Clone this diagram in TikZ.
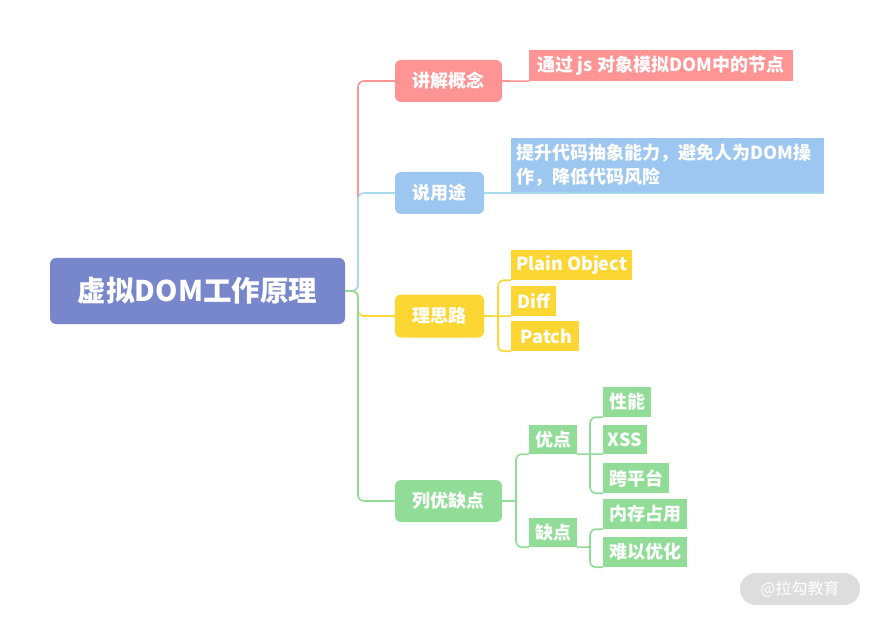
\documentclass[tikz,border=0pt]{standalone}
\usepackage{fontspec}
\setmainfont{Noto Sans CJK SC}
\definecolor{croot}{HTML}{7886CB}
\definecolor{cred}{HTML}{FF9494}
\definecolor{cblue}{HTML}{9DC6F0}
\definecolor{cblueL}{HTML}{A6DAEC}
\definecolor{cyel}{HTML}{FCD632}
\definecolor{cgreen}{HTML}{91DD98}
\definecolor{cwm}{HTML}{DDDDDD}
\begin{document}
\begin{tikzpicture}[x=1pt,y=-1pt,
  font=\bfseries\fontsize{18}{24}\selectfont,
  main/.style={rounded corners=6pt, fill=#1, text=white, minimum height=42pt, inner sep=0pt},
  leaf/.style={fill=#1, text=white, inner sep=0pt, minimum height=30pt},
  ln/.style={draw=#1, line width=1.6pt, rounded corners=6pt}]
\useasboundingbox (0,0) rectangle (874,617);
\fill[white] (0,0) rectangle (874,617);

\node[main=croot, minimum width=295pt, minimum height=66pt,
      font=\bfseries\fontsize{28.5}{30}\selectfont] (root) at (197.5,291) {虚拟DOM工作原理};

\node[main=cred, minimum width=107pt] (k1) at (448.5,81) {讲解概念};
\node[leaf=cred, minimum width=264pt, minimum height=31pt] (c1) at (661,65.5) {通过 js 对象模拟DOM中的节点};

\node[main=cblue, minimum width=89pt] (k2) at (439.5,193) {说用途};
\node[leaf=cblue, text width=303pt, inner xsep=5pt, minimum height=55pt, align=left] (c2) at (667.5,165.5)
  {提升代码抽象能力，避免人为DOM操\\作，降低代码风险};

\node[main=cyel, minimum width=89pt, minimum height=43pt] (k3) at (439.5,316) {理思路};
\node[leaf=cyel, minimum width=121pt] (c3a) at (571.5,265) {Plain Object};
\node[leaf=cyel, minimum width=45pt] (c3b) at (533.5,301) {Diff};
\node[leaf=cyel, minimum width=68pt] (c3c) at (545,336) {\,Patch};

\node[main=cgreen, minimum width=107pt] (k4) at (448.5,501) {列优缺点};
\node[leaf=cgreen, minimum width=48pt, minimum height=29pt] (g1) at (553,439.5) {优点};
\node[leaf=cgreen, minimum width=48pt, minimum height=29pt] (g2) at (553,532.5) {缺点};
\node[leaf=cgreen, minimum width=48pt] (p1) at (627,402) {性能};
\node[leaf=cgreen, minimum width=44pt, minimum height=29pt] (p2) at (625,439.5) {XSS};
\node[leaf=cgreen, minimum width=66pt] (p3) at (636,478) {跨平台};
\node[leaf=cgreen, minimum width=84pt] (m1) at (645,514) {内存占用};
\node[leaf=cgreen, minimum width=84pt] (m2) at (645,552) {难以优化};

\node[fill=cwm, text=white, rounded corners=16pt, minimum width=120pt, minimum height=32pt, inner sep=0pt,
      font=\fontsize{16}{18}\selectfont] (wm) at (800,589) {@拉勾教育};

\coordinate (trunk) at (358,291);
\coordinate (b3) at (498,316);
\coordinate (b4) at (516,501);
\coordinate (b5) at (590,454);
\coordinate (b6) at (590,547);

\draw[ln=cred] (root.east) -- (trunk) |- (k1.west);
\draw[ln=cblueL] (root.east) -- (trunk) |- (k2.west);
\draw[ln=cyel] (root.east) -- (trunk) |- (k3.west);
\draw[ln=cgreen] (root.east) -- (trunk) |- (k4.west);

\draw[ln=cred] (k1.east) -- (c1.south west);
\draw[ln=cblueL] (k2.east) -- (c2.south east);

\draw[ln=cyel] (k3.east) -- (c3b.south west);
\draw[ln=cyel] (c3a.south west) -| (b3) |- (c3c.south west);

\draw[ln=cgreen] (k4.east) -- (b4);
\draw[ln=cgreen] (g1.south west) -| (b4) |- (g2.south west);
\draw[ln=cgreen] (g1.south east) -- (b5) -- (p2.south west);
\draw[ln=cgreen] (p1.south west) -| (b5) |- (p3.south west);
\draw[ln=cgreen] (g2.south east) -- (b6);
\draw[ln=cgreen] (m1.south west) -| (b6) |- (m2.south west);
\end{tikzpicture}
\end{document}
